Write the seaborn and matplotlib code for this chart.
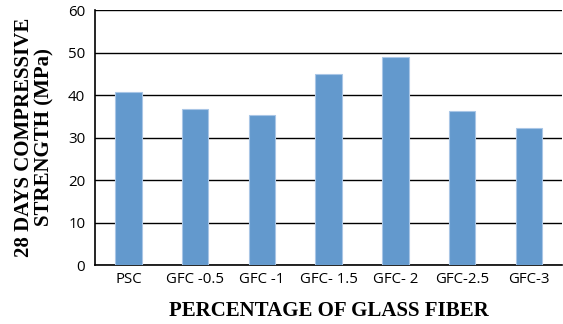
import matplotlib
matplotlib.use("Agg")
import matplotlib.pyplot as plt
import seaborn as sns
import pandas as pd

categories = ["PSC", "GFC -0.5", "GFC -1", "GFC- 1.5", "GFC- 2", "GFC-2.5", "GFC-3"]
strength = [40.7, 36.6, 35.2, 44.9, 48.9, 36.3, 32.2]
yticks = [0, 10, 20, 30, 40, 50, 60]

df = pd.DataFrame({"cat": categories, "val": strength})

sns.set_style("white")
fig = plt.figure(figsize=(5.63, 3.24), dpi=100)
ax = fig.add_axes([0.1687, 0.182, 0.83, 0.787])

sns.barplot(data=df, x="cat", y="val", ax=ax, color="#6399CD", width=0.4,
            edgecolor="#A9C6E6", linewidth=0.8, saturation=1, zorder=3)

ax.set_ylim(0, 60)
ax.set_yticks(yticks)
ax.set_xlim(-0.5, len(categories) - 0.5)
ax.yaxis.grid(True, color="black", linewidth=1.0, zorder=0)
ax.set_axisbelow(True)
for s in ["top", "right"]:
    ax.spines[s].set_visible(False)
for s in ["left", "bottom"]:
    ax.spines[s].set_color("black")
    ax.spines[s].set_linewidth(1.2)
ax.tick_params(axis="both", length=0, labelsize=10.8, labelcolor="black")
ax.tick_params(axis="y", pad=7)
ax.tick_params(axis="x", pad=5)
for lbl in ax.get_xticklabels() + ax.get_yticklabels():
    lbl.set_family("Open Sans")

ax.set_xlabel("PERCENTAGE OF GLASS FIBER", family="Liberation Serif",
              fontweight="bold", fontsize=15, labelpad=10, color="black")
ax.set_ylabel("28 DAYS COMPRESSIVE\nSTRENGTH (MPa)", family="Liberation Serif",
              fontweight="bold", fontsize=15, labelpad=10, linespacing=1.0,
              color="black")

fig.savefig("out.png", dpi=100)
